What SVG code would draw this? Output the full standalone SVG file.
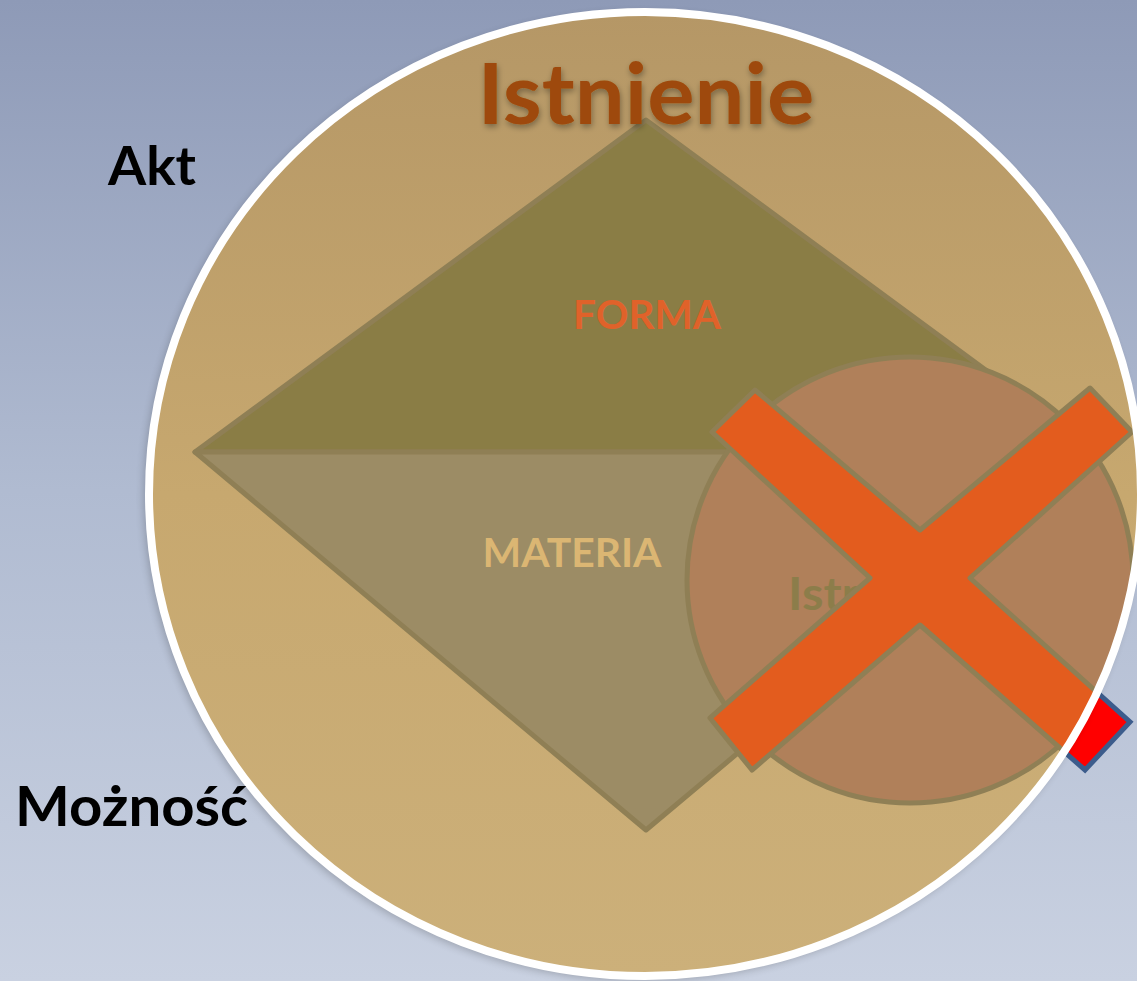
<svg xmlns="http://www.w3.org/2000/svg" width="1137" height="981" viewBox="0 0 1137 981">
<defs>
<linearGradient id="bg" x1="0" y1="0" x2="0" y2="1">
<stop offset="0" stop-color="#8e9ab7"/>
<stop offset="0.5" stop-color="#b0bbd1"/>
<stop offset="1" stop-color="#c9d1e1"/>
</linearGradient>
<linearGradient id="disc" x1="0" y1="0" x2="0" y2="1">
<stop offset="0" stop-color="#b59766"/>
<stop offset="0.5" stop-color="#c7a86f"/>
<stop offset="1" stop-color="#ccb07a"/>
</linearGradient>
<clipPath id="inside">
<ellipse cx="645" cy="494" rx="496" ry="482"/>
</clipPath>
<filter id="sh" x="-10%" y="-10%" width="120%" height="120%">
<feGaussianBlur stdDeviation="4"/>
</filter>
<filter id="tsh" x="-10%" y="-30%" width="120%" height="160%">
<feGaussianBlur in="SourceAlpha" stdDeviation="3"/>
<feOffset dx="1" dy="3"/>
<feComponentTransfer><feFuncA type="linear" slope="0.35"/></feComponentTransfer>
<feMerge><feMergeNode/><feMergeNode in="SourceGraphic"/></feMerge>
</filter>
</defs>
<style>
.lbl{font-family:Lato,"Open Sans","Liberation Sans",sans-serif;font-weight:bold}
.edge{stroke:#8f7f55;stroke-width:5;stroke-linejoin:round}
</style>
<rect x="0" y="0" width="1137" height="981" fill="url(#bg)"/>

<g id="red-cross">
<polygon points="755,390 920,530 1090,388 1132,432 970,578 1130,722 1085,770 920,625 752,770 710,718 870,578 712,432" fill="#ff0000" stroke="#3c5c8c" stroke-width="5" stroke-linejoin="miter"/>
</g>

<g id="istnienie-disc">
<ellipse cx="642" cy="497" rx="498" ry="484" fill="#000" opacity="0.22" filter="url(#sh)"/>
<ellipse cx="645" cy="494" rx="496" ry="482" fill="url(#disc)"/>
</g>

<g clip-path="url(#inside)">
<g id="forma">
<polygon points="195,452 646,120 1097,452" fill="#8a7d45" class="edge"/>
<text class="lbl" x="647" y="329" font-size="40" fill="#e0622a" text-anchor="middle" textLength="148" lengthAdjust="spacingAndGlyphs">FORMA</text>
</g>
<g id="materia">
<polygon points="195,452 1097,452 646,830" fill="#9c8c65" class="edge"/>
<text class="lbl" x="572" y="567" font-size="40" fill="#dbb673" text-anchor="middle" textLength="179" lengthAdjust="spacingAndGlyphs">MATERIA</text>
</g>
<g id="istnienie-inner">
<circle cx="910" cy="580" r="223" fill="#b0805a" class="edge"/>
<text class="lbl" x="788" y="610" font-size="46" fill="#8c7d4a" textLength="186" lengthAdjust="spacingAndGlyphs">Istnienie</text>
</g>
<g id="cross">
<polygon points="755,390 920,530 1090,388 1132,432 970,578 1130,722 1085,770 920,625 752,770 710,718 870,578 712,432" fill="#e35c1e" class="edge" stroke-linejoin="miter"/>
</g>
</g>

<g id="disc-rim">
<ellipse cx="645" cy="494" rx="496" ry="482" fill="none" stroke="#ffffff" stroke-width="8"/>
</g>

<g id="title">
<text class="lbl" x="646" y="124" font-size="84" fill="#9e4a0a" text-anchor="middle" textLength="337" lengthAdjust="spacingAndGlyphs" filter="url(#tsh)">Istnienie</text>
</g>
<g id="akt">
<text class="lbl" x="108" y="185" font-size="54" fill="#000" textLength="88" lengthAdjust="spacingAndGlyphs">Akt</text>
</g>
<g id="moznosc">
<text class="lbl" x="15" y="826" font-size="55" fill="#000" textLength="233" lengthAdjust="spacingAndGlyphs">Możność</text>
</g>
</svg>
